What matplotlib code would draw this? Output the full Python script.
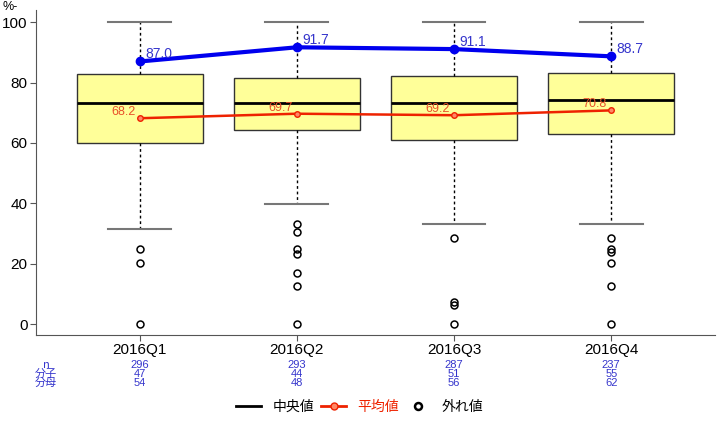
import matplotlib
matplotlib.use('Agg')
import matplotlib.pyplot as plt
from matplotlib.lines import Line2D

# DATA
quarters = ['2016Q1', '2016Q2', '2016Q3', '2016Q4']
box_q1 = [60.0, 64.2, 61.0, 62.9]
box_med = [73.2, 73.2, 73.2, 74.2]
box_q3 = [82.8, 81.5, 82.1, 83.1]
whis_lo = [31.5, 39.8, 33.1, 33.1]
whis_hi = [100, 100, 100, 100]
outliers = [[25.0, 20.1, 0],
            [33.1, 30.6, 24.9, 23.2, 16.8, 12.5, 0],
            [28.6, 7.4, 6.3, 0],
            [28.6, 24.9, 23.9, 20.1, 12.5, 0]]
means = [68.2, 69.7, 69.2, 70.8]
n_vals = [296, 293, 287, 237]
numer = [47, 44, 51, 55]
denom = [54, 48, 56, 62]
ratio = [round(100 * a / b, 1) for a, b in zip(numer, denom)]
row_labels = ['n', '分子', '分母']

# STYLE
BOX_FACE = '#FFFF99'
BOX_EDGE = '#333333'
BLUE_LINE = '#0000EE'
BLUE_TEXT = '#3535CC'
RED_LINE = '#EE2200'
RED_TEXT = '#E8502A'
JP = ['Noto Sans CJK JP', 'DejaVu Sans']

plt.rcParams['font.family'] = ['Liberation Sans', 'DejaVu Sans']

fig = plt.figure(figsize=(7.2, 4.23), dpi=100)
ax = fig.add_axes([0.05, 0.208, 0.943, 0.768])

pos = list(range(len(quarters)))
stats = [dict(med=m, q1=a, q3=b, whislo=lo, whishi=hi, fliers=f)
         for m, a, b, lo, hi, f in zip(box_med, box_q1, box_q3, whis_lo, whis_hi, outliers)]

ax.bxp(stats, positions=pos, widths=0.8, capwidths=0.4, patch_artist=True,
       boxprops=dict(facecolor=BOX_FACE, edgecolor=BOX_EDGE, linewidth=1),
       whiskerprops=dict(color='black', linestyle=(0, (2, 2)), linewidth=1),
       capprops=dict(color='#777777', linewidth=1.5),
       medianprops=dict(color='black', linewidth=2),
       flierprops=dict(marker='o', markerfacecolor='none', markeredgecolor='black',
                       markersize=5, markeredgewidth=1.1))

# ratio line (blue)
ax.plot(pos, ratio, color=BLUE_LINE, linewidth=3, marker='o', markersize=6, zorder=5)
for x, v in zip(pos, ratio):
    ax.annotate(f'{v:.1f}', (x, v), xytext=(4, 0), textcoords='offset points',
                color=BLUE_TEXT, fontsize=10, ha='left', va='bottom', zorder=6)

# mean line (red)
ax.plot(pos, means, color=RED_LINE, linewidth=1.8, marker='o', markersize=4,
        markerfacecolor='#FF8866', markeredgecolor=RED_LINE, zorder=5)
for x, v in zip(pos, means):
    ax.annotate(f'{v:.1f}', (x, v), xytext=(-3, 0), textcoords='offset points',
                color=RED_TEXT, fontsize=9, ha='right', va='bottom', zorder=6)

ax.set_xlim(-0.66, 3.66)
ax.set_ylim(-3.6, 104)
ax.set_yticks([0, 20, 40, 60, 80, 100])
ax.set_xticks(pos)
ax.set_xticklabels(quarters)
for side in ['top', 'right']:
    ax.spines[side].set_visible(False)
for side in ['left', 'bottom']:
    ax.spines[side].set_color('#555555')
ax.tick_params(axis='both', colors='#555555', labelcolor='black', labelsize=11, length=4, pad=2)

fig.text(0.003, 0.984, '%-', fontsize=9, ha='left', va='center')

# count table under the axis
tr = ax.get_xaxis_transform()
rows_px = [365, 374, 383]
rows_y = [(335 - p) / 325 for p in rows_px]
for x, a, b, c in zip(pos, n_vals, numer, denom):
    for yy, val in zip(rows_y, [a, b, c]):
        ax.text(x, yy, str(val), transform=tr, ha='center', va='center',
                color=BLUE_TEXT, fontsize=8)
for p, lab in zip(rows_px, row_labels):
    fig.text(46 / 720, (423 - p) / 423, lab, ha='center', va='center',
             color=BLUE_TEXT, fontsize=8, family=JP)

handles = [Line2D([0], [0], color='black', linewidth=2),
           Line2D([0], [0], color=RED_LINE, linewidth=2, marker='o', markersize=5,
                  markerfacecolor='#FF8866'),
           Line2D([0], [0], linestyle='None', marker='o', markersize=5,
                  markerfacecolor='none', markeredgecolor='black', markeredgewidth=1.8)]
fig.legend(handles, ['中央値', '平均値', '外れ値'], loc='center', bbox_to_anchor=(0.5, 0.038),
           ncol=3, frameon=False, prop={'family': JP, 'size': 10},
           labelcolor=['black', RED_LINE, 'black'], handlelength=1.8, handletextpad=0.8,
           columnspacing=0.5)

fig.savefig('out.png', dpi=100)
